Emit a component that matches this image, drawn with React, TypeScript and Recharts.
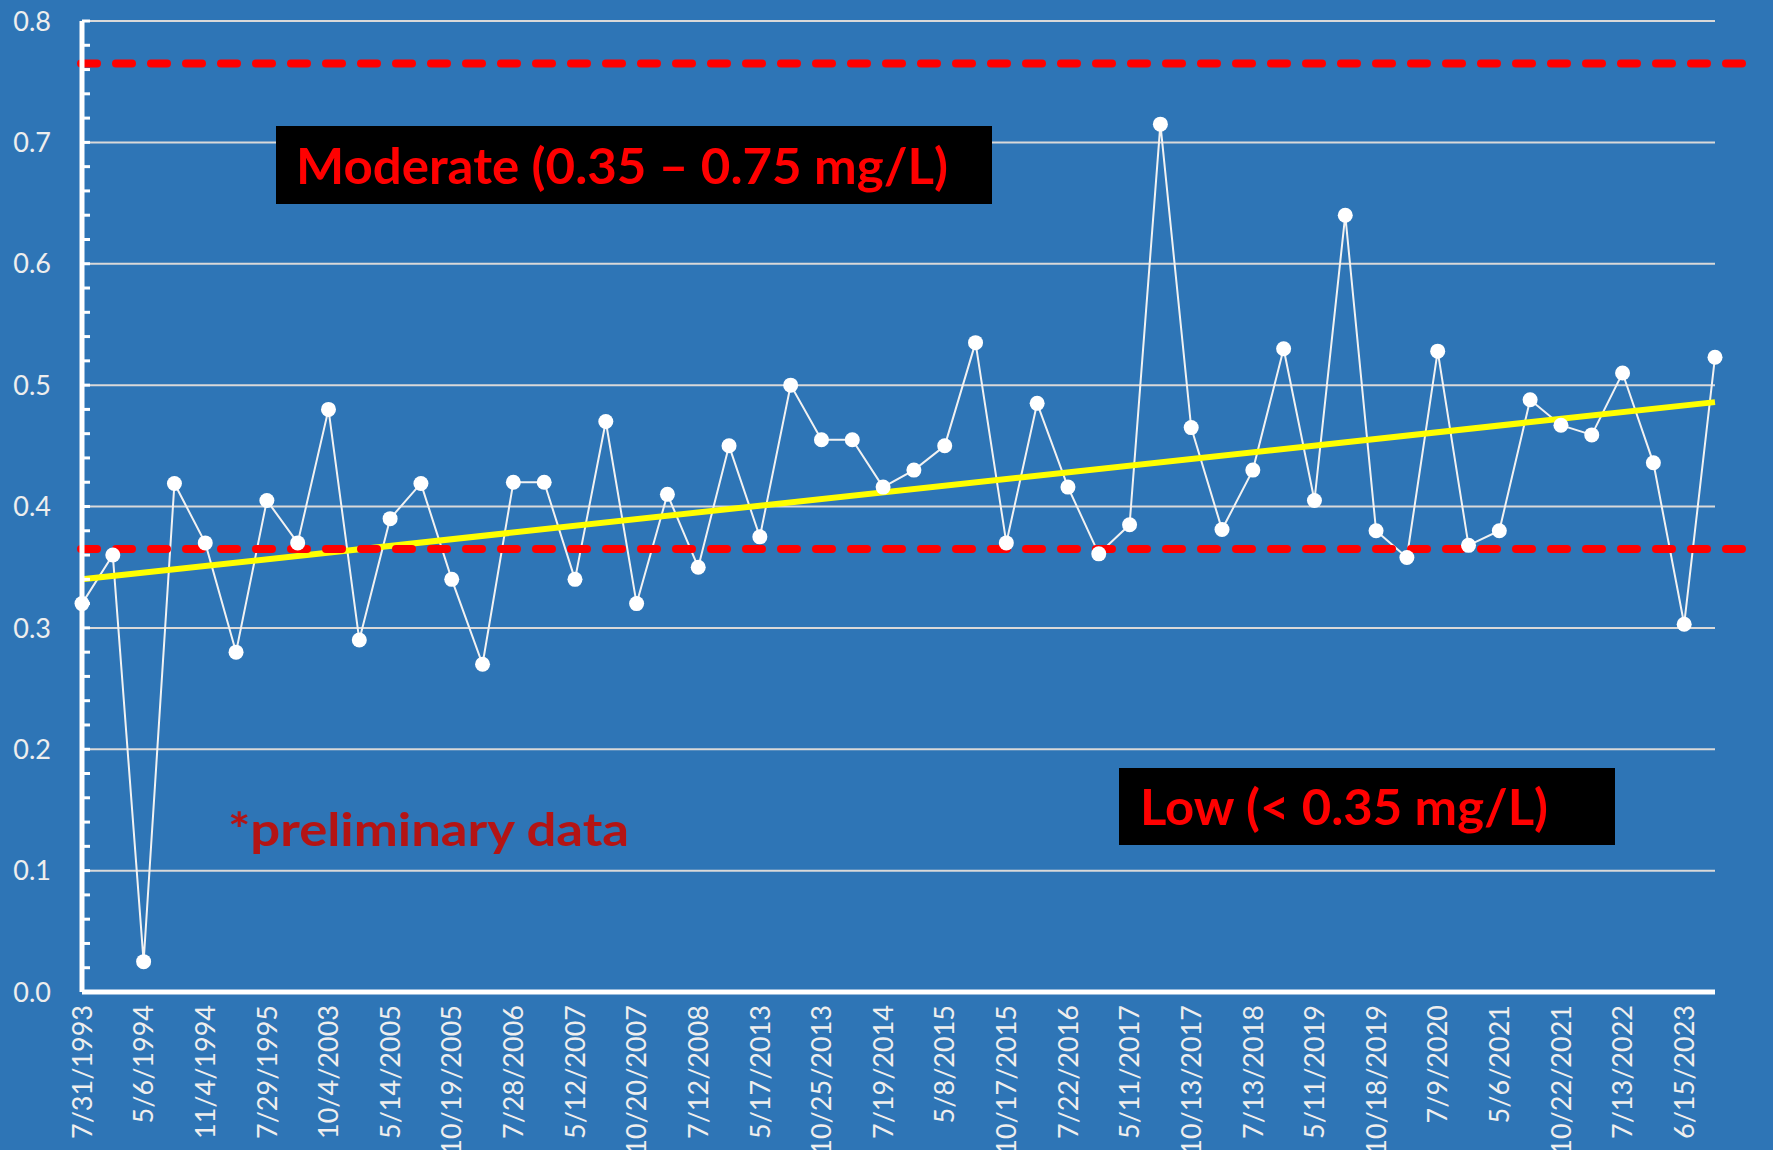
import React from "react";
import { LineChart, Line, XAxis, YAxis, ReferenceLine } from "recharts";

if (typeof document !== "undefined") {
  document.body.style.margin = "0";
}

// Labels shown on the x axis (every other sample)
const tickLabels = [
  "7/31/1993", "5/6/1994", "11/4/1994", "7/29/1995", "10/4/2003", "5/14/2005",
  "10/19/2005", "7/28/2006", "5/12/2007", "10/20/2007", "7/12/2008", "5/17/2013",
  "10/25/2013", "7/19/2014", "5/8/2015", "10/17/2015", "7/22/2016", "5/11/2017",
  "10/13/2017", "7/13/2018", "5/11/2019", "10/18/2019", "7/9/2020", "5/6/2021",
  "10/22/2021", "7/13/2022", "6/15/2023",
];

// Phosphorus concentration (mg/L) per sample
const values = [
  0.32, 0.36, 0.025, 0.419, 0.37, 0.28, 0.405, 0.37, 0.48, 0.29, 0.39, 0.419, 0.34, 0.27,
  0.42, 0.42, 0.34, 0.47, 0.32, 0.41, 0.35, 0.45, 0.375, 0.5, 0.455, 0.455, 0.416, 0.43,
  0.45, 0.535, 0.37, 0.485, 0.416, 0.361, 0.385, 0.715, 0.465, 0.381, 0.43, 0.53, 0.405,
  0.64, 0.38, 0.358, 0.528, 0.368, 0.38, 0.488, 0.467, 0.459, 0.51, 0.436, 0.303, 0.523,
];

// Linear trend end points
const trendIndex = [0, 53];
const trendValues = [0.34, 0.486];

// Threshold lines
const thresholdValues = [0.365, 0.765];

// Y axis
const yTickLabels = ["0.0", "0.1", "0.2", "0.3", "0.4", "0.5", "0.6", "0.7", "0.8"];
const gridValues = [0.1, 0.2, 0.3, 0.4, 0.5, 0.6, 0.7, 0.8];

const sampleIndex = values.map((_, i) => i);
const mainData = sampleIndex.map((i) => ({ i, v: values[i] }));
const trendData = trendIndex.map((i, k) => ({ i, v: trendValues[k] }));
const xTicks = tickLabels.map((_, k) => k * 2);
const yTicks: number[] = [];
for (let k = 0; k <= 40; k++) yTicks.push(Math.round(k * 2) / 100);

const FONT = "Lato, 'Open Sans', sans-serif";
const BG = "#2E75B6";

const YTick = (props: any) => {
  const { x, y, payload } = props;
  const v = payload.value as number;
  const k = Math.round(v * 10);
  const major = Math.abs(v * 10 - k) < 1e-6;
  return (
    <g>
      <line x1={x} x2={x + 8} y1={y} y2={y} stroke="#FFFFFF" strokeWidth={3} />
      {major && (
        <text
          x={x - 31}
          y={y}
          dy="0.36em"
          textAnchor="end"
          fill="#EEEEEE"
          fontSize={27}
          fontFamily={FONT}
        >
          {yTickLabels[k]}
        </text>
      )}
    </g>
  );
};

const XTick = (props: any) => {
  const { x, y, payload } = props;
  const label = tickLabels[Math.round(payload.value / 2)];
  return (
    <text
      transform={`translate(${x},${y + 13}) rotate(-90)`}
      textAnchor="end"
      dy="0.36em"
      fill="#EEEEEE"
      fontSize={27}
      fontFamily={FONT}
    >
      {label}
    </text>
  );
};

const DashShape = (p: any) => (
  <line
    x1={p.x1 - 1}
    x2={p.x2 + 46}
    y1={p.y1}
    y2={p.y2}
    stroke="#FF0000"
    strokeWidth={8}
    strokeDasharray="16 19"
    strokeLinecap="round"
  />
);

export default function App() {
  return (
    <div style={{ position: "relative", width: 1773, height: 1150, background: BG, overflow: "hidden" }}>
      <LineChart
        width={1773}
        height={1150}
        data={mainData}
        margin={{ top: 21, right: 58, bottom: 8, left: 0 }}
      >
        {gridValues.map((g) => (
          <ReferenceLine key={"g" + g} y={g} stroke="#D9D9D9" strokeWidth={2} />
        ))}
        <XAxis
          type="number"
          dataKey="i"
          domain={[0, 53]}
          ticks={xTicks}
          interval={0}
          height={150}
          tickSize={0}
          tickMargin={0}
          tickLine={false}
          axisLine={{ stroke: "#FFFFFF", strokeWidth: 5 }}
          tick={<XTick />}
        />
        <YAxis
          type="number"
          domain={[0, 0.8]}
          ticks={yTicks}
          interval={0}
          width={82}
          tickSize={0}
          tickMargin={0}
          tickLine={false}
          axisLine={{ stroke: "#FFFFFF", strokeWidth: 5 }}
          tick={<YTick />}
        />
        <Line
          dataKey="v"
          stroke="#F2F2F2"
          strokeWidth={2}
          dot={{ r: 7.5, fill: "#FFFFFF", stroke: "#FFFFFF", strokeWidth: 0 }}
          activeDot={false}
          isAnimationActive={false}
        />
        <Line
          data={trendData}
          dataKey="v"
          stroke="#FFFF00"
          strokeWidth={6}
          dot={false}
          activeDot={false}
          isAnimationActive={false}
        />
        {thresholdValues.map((t) => (
          <ReferenceLine key={"t" + t} y={t} shape={<DashShape />} />
        ))}
      </LineChart>
      <svg
        width={1773}
        height={1150}
        style={{ position: "absolute", left: 0, top: 0, pointerEvents: "none" }}
      >
        <rect x={276} y={126} width={716} height={78} fill="#000000" />
        <text
          x={296}
          y={184}
          fill="#FF0000"
          fontSize={50}
          fontWeight={700}
          fontFamily={FONT}
          textLength={652}
          lengthAdjust="spacingAndGlyphs"
        >
          Moderate (0.35 – 0.75 mg/L)
        </text>
        <rect x={1119} y={768} width={496} height={77} fill="#000000" />
        <text
          x={1140}
          y={825}
          fill="#FF0000"
          fontSize={50}
          fontWeight={700}
          fontFamily={FONT}
          textLength={408}
          lengthAdjust="spacingAndGlyphs"
        >
          Low (&lt; 0.35 mg/L)
        </text>
        <text
          x={228}
          y={846}
          fill="#B41414"
          fontSize={45}
          fontWeight={700}
          fontFamily={FONT}
          textLength={401}
          lengthAdjust="spacingAndGlyphs"
        >
          *preliminary data
        </text>
      </svg>
    </div>
  );
}
